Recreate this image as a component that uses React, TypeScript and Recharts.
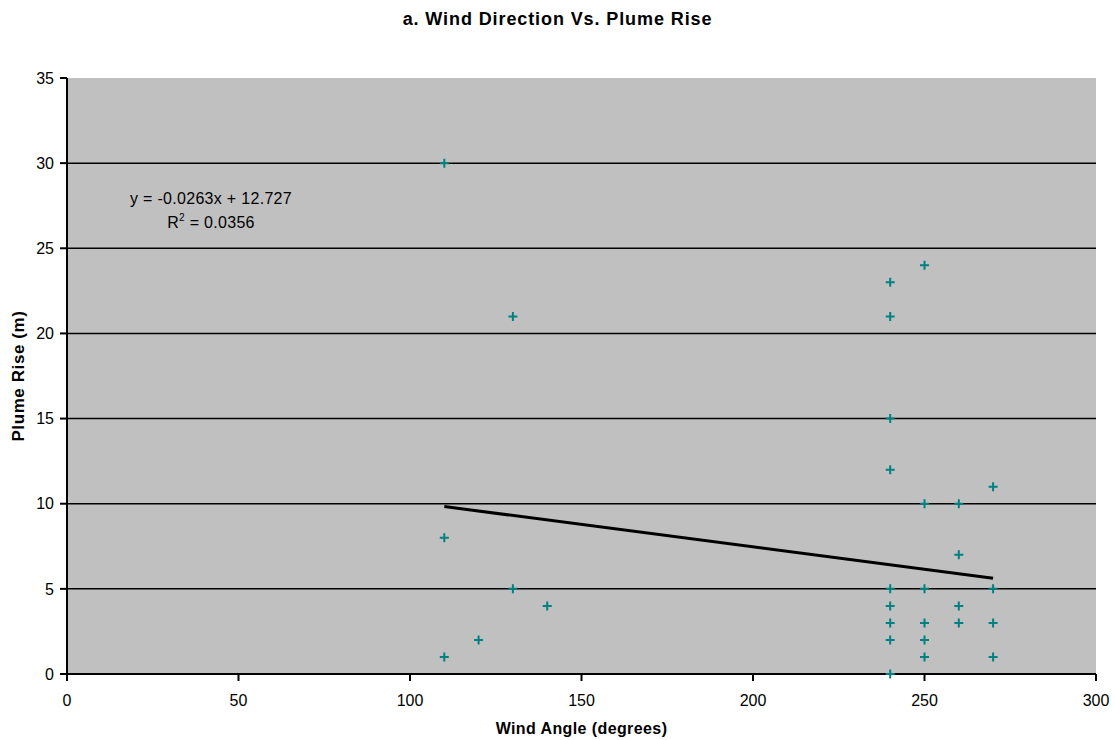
import * as React from 'react'
import { ScatterChart, Scatter, XAxis, YAxis, CartesianGrid, ReferenceLine } from 'recharts'

const windAngle = [110, 110, 110, 120, 130, 130, 140, 240, 240, 240, 240, 240, 240, 240, 240, 240, 250, 250, 250, 250, 250, 250, 260, 260, 260, 260, 270, 270, 270, 270]
const plumeRise = [30, 8, 1, 2, 21, 5, 4, 23, 21, 15, 12, 5, 4, 3, 2, 0, 24, 10, 5, 3, 2, 1, 10, 7, 4, 3, 11, 5, 3, 1]

const xTicks = [0, 50, 100, 150, 200, 250, 300]
const yTicks = [0, 5, 10, 15, 20, 25, 30, 35]
const gridLevels = [5, 10, 15, 20, 25, 30]

// linear trend as printed on the chart
const slope = -0.0263
const intercept = 12.727
const trendX = [110, 270]

const points = windAngle.map((x, i) => ({ x, y: plumeRise[i] }))
const trend = trendX.map(x => ({ x, y: slope * x + intercept }))

const FONT = '"Liberation Sans", Arial, sans-serif'

function Plus(props: any) {
  const { cx, cy } = props
  if (cx == null || cy == null) return <g />
  return (
    <path
      d={`M${cx - 4.5},${cy} H${cx + 4.5} M${cx},${cy - 4.5} V${cy + 4.5}`}
      stroke="#008080"
      strokeWidth={2}
      fill="none"
    />
  )
}

const axisLabelStyle = { fontWeight: 'bold', fontSize: 16, fill: '#000', fontFamily: FONT, letterSpacing: 0.4 }

export default function App() {
  return (
    <div style={{ position: 'absolute', left: 0, top: 0, width: 1115, height: 740, background: '#fff', fontFamily: FONT }}>
      <div style={{ position: 'absolute', top: 9, left: 0, width: 1115, textAlign: 'center', fontWeight: 'bold', fontSize: 18, letterSpacing: 0.9 }}>
        a. Wind Direction Vs. Plume Rise
      </div>
      <ScatterChart width={1115} height={740} margin={{ top: 78, right: 19, left: 0, bottom: 0 }}>
        <CartesianGrid horizontal={false} vertical={false} fill="#c0c0c0" stroke="none" />
        {gridLevels.map(v => (
          <ReferenceLine key={v} y={v} stroke="#000" strokeWidth={1.5} />
        ))}
        <XAxis
          type="number"
          dataKey="x"
          domain={[0, 300]}
          ticks={xTicks}
          height={66}
          tickSize={7}
          tickMargin={14}
          axisLine={{ stroke: '#000', strokeWidth: 2 }}
          tickLine={{ stroke: '#000', strokeWidth: 2 }}
          tick={{ fill: '#000', fontSize: 16, fontFamily: FONT }}
          label={{ value: 'Wind Angle (degrees)', position: 'insideBottom', offset: 6, style: axisLabelStyle }}
        />
        <YAxis
          type="number"
          dataKey="y"
          domain={[0, 35]}
          ticks={yTicks}
          width={67}
          tickSize={7}
          tickMargin={6}
          axisLine={{ stroke: '#000', strokeWidth: 2 }}
          tickLine={{ stroke: '#000', strokeWidth: 2 }}
          tick={{ fill: '#000', fontSize: 16, fontFamily: FONT }}
          label={{ value: 'Plume Rise (m)', angle: -90, position: 'insideLeft', offset: 18, style: { ...axisLabelStyle, textAnchor: 'middle', fontSize: 17, letterSpacing: 0.6 } }}
        />
        <Scatter data={trend} line={{ stroke: '#000', strokeWidth: 3 }} shape={() => <g />} isAnimationActive={false} />
        <Scatter data={points} shape={Plus} isAnimationActive={false} />
      </ScatterChart>
      <div style={{ position: 'absolute', left: 100, top: 187, width: 222, textAlign: 'center', fontSize: 16, lineHeight: '24px', color: '#000', letterSpacing: 0.3 }}>
        <div>y = -0.0263x + 12.727</div>
        <div>R<sup style={{ fontSize: 10, verticalAlign: 'top', lineHeight: '14px' }}>2</sup> = 0.0356</div>
      </div>
    </div>
  )
}
